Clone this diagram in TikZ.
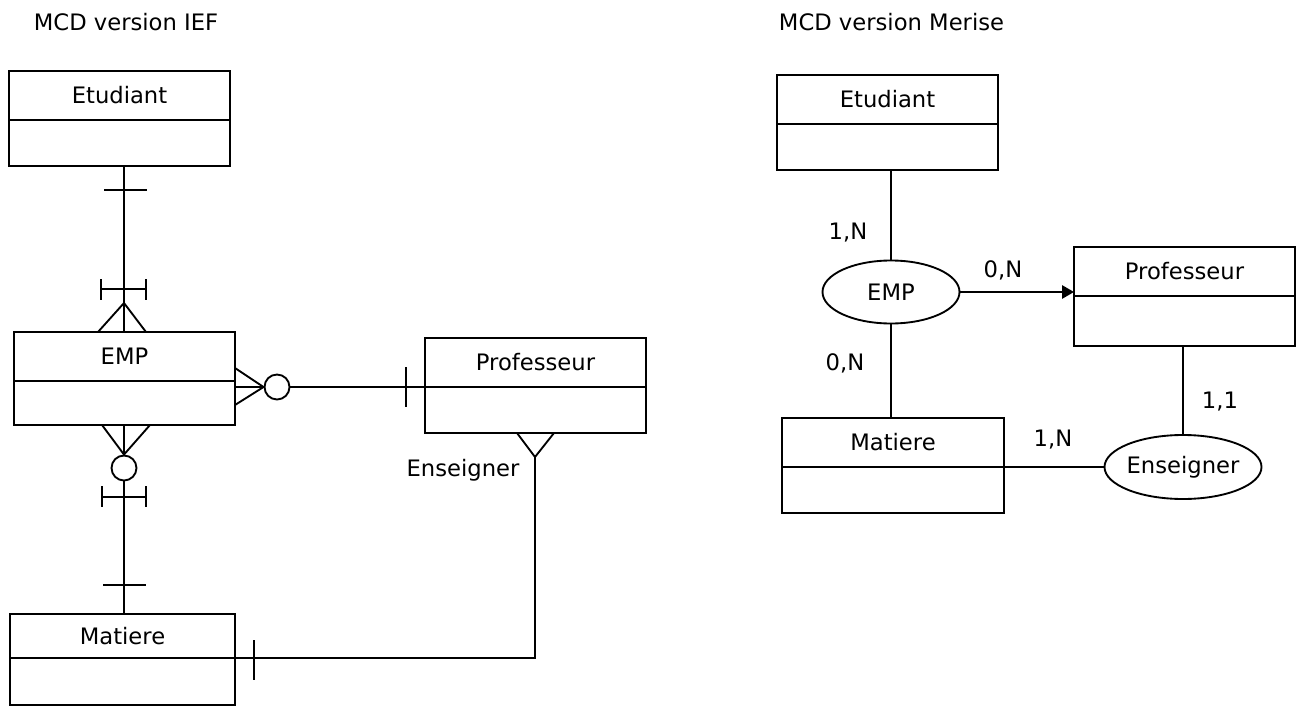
\documentclass[tikz,border=0pt]{standalone}
\usepackage{fontspec}
\setmainfont{DejaVu Sans}
\usetikzlibrary{positioning,shapes.geometric,arrows.meta}

\tikzset{
  entete/.style={draw, minimum width=165.75pt, minimum height=36.75pt, inner sep=0pt, outer sep=0pt},
  corps/.style={draw, minimum width=165.75pt, minimum height=34.5pt, inner sep=0pt, outer sep=0pt},
  asso/.style={draw, ellipse, inner sep=0pt},
  rond/.style={draw, circle, minimum size=18.75pt, inner sep=0pt},
  fleche/.style={-{Triangle[length=9pt,width=10pt]}},
}

\begin{document}
\begin{tikzpicture}[x=0.75pt, y=-0.75pt, line width=1.4pt, font=\fontsize{17}{20}\selectfont]
  \useasboundingbox (0,0) rectangle (1301,706);

  % titres
  \node[anchor=west, inner sep=0pt] (titreA) at (33,22) {MCD version IEF};
  \node[anchor=west, inner sep=0pt] (titreB) at (778,22) {MCD version Merise};

  %IEF
  \node[entete, anchor=north west] (etuA) at (9,71) {Etudiant};
  \node[corps, below=0pt of etuA] (etuA-b) {};
  \node[entete, anchor=north west] (empA) at (14,332) {EMP};
  \node[corps, below=0pt of empA, minimum height=33pt] (empA-b) {};
  \node[entete, anchor=north west] (profA) at (425,338) {Professeur};
  \node[corps, below=0pt of profA] (profA-b) {};
  \node[entete, anchor=north west, minimum width=168.75pt, minimum height=33pt] (matA) at (10,614) {Matiere};
  \node[corps, below=0pt of matA, minimum width=168.75pt, minimum height=35.25pt] (matA-b) {};
  \node[rond] (oA) at (277,387) {};
  \node[rond] (oB) at (124,468) {};
  \node (ensA) at (463,470) {Enseigner};
  \coordinate (pied) at (535,457);

  % liens
  \draw (oB |- etuA-b.south) -- (oB |- empA.north);
  \draw (oA) -- (profA.south west);
  \draw (oB) -- (oB |- matA.north);
  \draw (pied) |- (matA.south east);

  % pattes
  \draw (104,190) -- (147,190);
  \draw (101,279) -- (101,300) (101,289) -- (146,289) (146,279) -- (146,300);
  \draw (98,332) -- (124,303) -- (146,332);
  \draw (235,368) -- (oA.west) -- (235,405) (235,387) -- (oA.west);
  \draw (102,425) -- (oB.north) -- (150,425) (124,425) -- (oB.north);
  \draw (102,486) -- (102,507) (102,497) -- (146,497) (146,486) -- (146,507);
  \draw (103,585) -- (146,585);
  \draw (406,367) -- (406,407);
  \draw (517,433) -- (pied) -- (554,433);
  \draw (254,640) -- (254,680);

  %Merise
  \node[entete, anchor=north west] (etuB) at (777,75) {Etudiant};
  \node[corps, below=0pt of etuB] (etuB-b) {};
  \node[entete, anchor=north west] (profB) at (1074,247) {Professeur};
  \node[corps, below=0pt of profB, minimum height=37.5pt] (profB-b) {};
  \node[entete, anchor=north west, minimum width=166.5pt] (matB) at (782,418) {Matiere};
  \node[corps, below=0pt of matB, minimum width=166.5pt] (matB-b) {};
  \node[asso, minimum width=102.75pt, minimum height=47.25pt, label=center:EMP] (empB) at (891,292) {};
  \node[asso, minimum width=117.75pt, minimum height=48pt, label=center:Enseigner] (ensB) at (1183,467) {};

  % liens
  \draw (empB.north) -- (empB.north |- etuB-b.south);
  \draw (empB.south) -- (empB.south |- matB.north);
  \draw[fleche] (empB.east) -- (empB.east -| profB.west);
  \draw (matB.south east) -- (matB.south east -| ensB.west);
  \draw (ensB.north) -- (ensB.north |- profB-b.south);

  % label
  \node (cEtu) at (848,233) {1,N};
  \node (cEmpProf) at (1003,270) {0,N};
  \node (cMat) at (845,363) {0,N};
  \node (cProf) at (1220,402) {1,1};
  \node (cEns) at (1053,440) {1,N};
\end{tikzpicture}
\end{document}
